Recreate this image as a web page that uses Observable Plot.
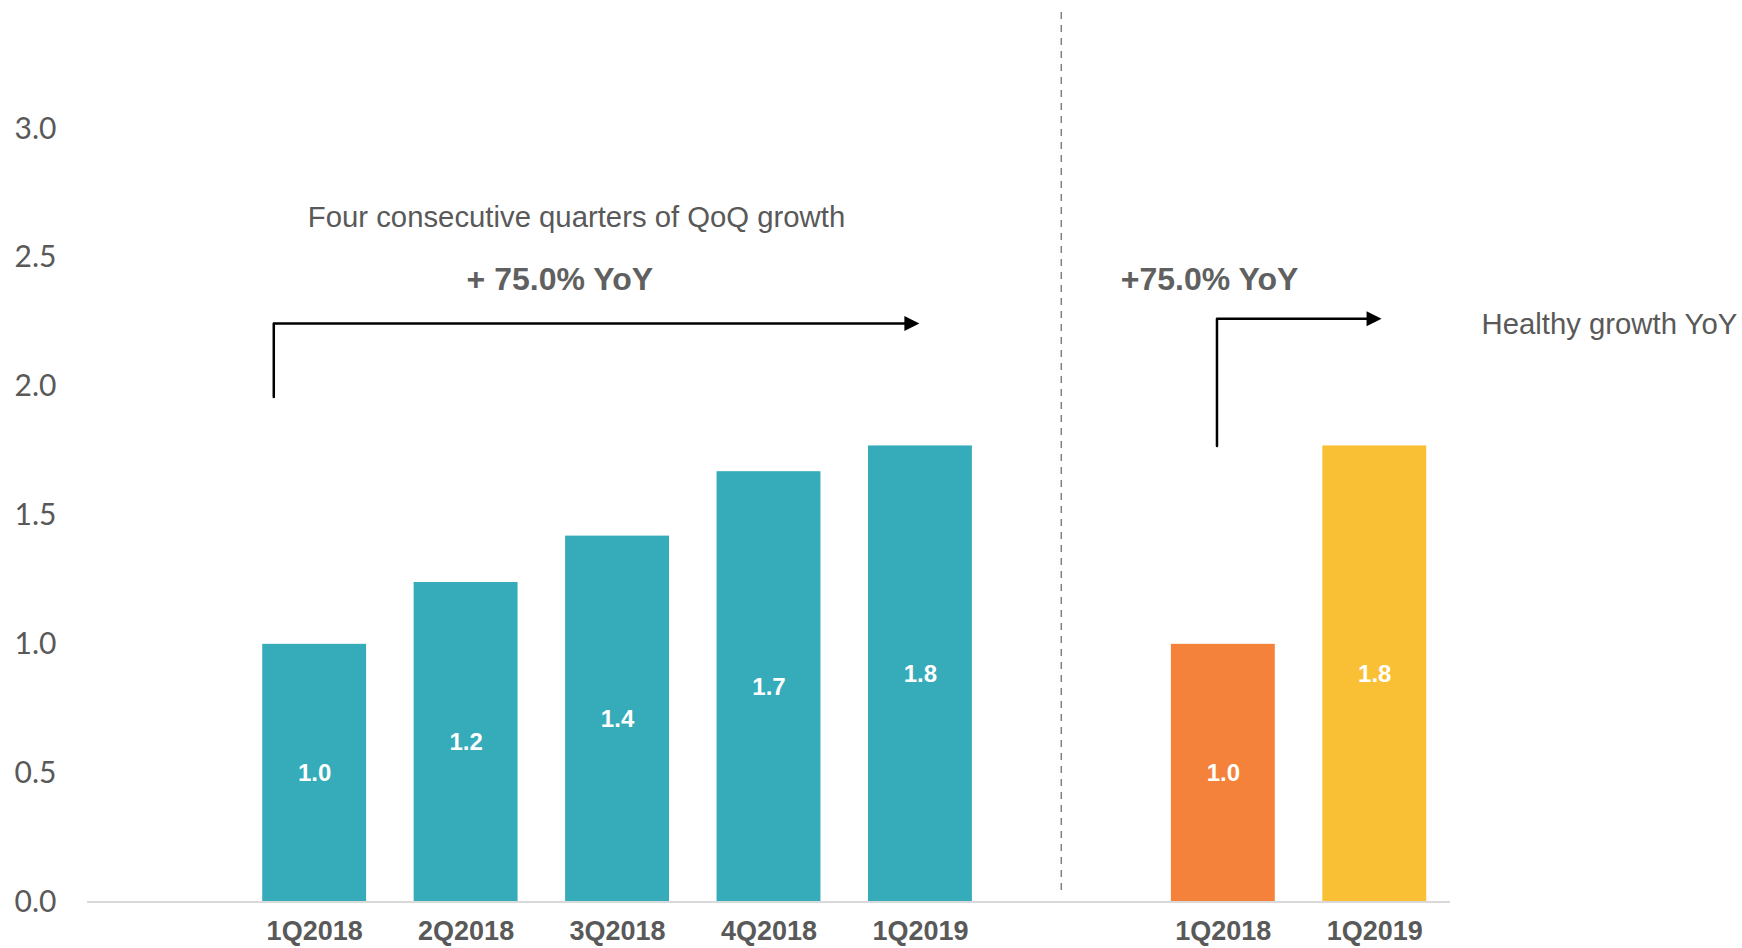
<!DOCTYPE html>
<html>
<head>
<meta charset="utf-8">
<script src="https://cdn.jsdelivr.net/npm/d3@7"></script>
<script src="https://cdn.jsdelivr.net/npm/@observablehq/plot@0.6"></script>
<style>
  html, body { margin: 0; padding: 0; background: #ffffff; }
  #chart svg { display: block; overflow: visible; }
</style>
</head>
<body>
<div id="chart"></div>
<script>
// ---- Data ----
const qoqQuarters = ["1Q2018", "2Q2018", "3Q2018", "4Q2018", "1Q2019"];
const qoqValues   = [1.0, 1.24, 1.42, 1.67, 1.77];
const yoyQuarters = ["1Q2018", "1Q2019"];
const yoyValues   = [1.0, 1.77];
const qoqColor    = "#36abb9";
const yoyColors   = ["#f4823a", "#f9bf35"];
const yTicks      = [0, 0.5, 1.0, 1.5, 2.0, 2.5, 3.0];

// annotation texts
const qoqNote   = "Four consecutive quarters of QoQ growth";
const qoqGrowth = "+ 75.0% YoY";
const yoyGrowth = "+75.0% YoY";
const yoyNote   = "Healthy growth YoY";

// ---- Build table (slot 0 and 6 are empty spacer slots on the x axis) ----
const rows = [
  ...qoqQuarters.map((q, i) => ({slot: i + 1, label: q, value: qoqValues[i], color: qoqColor})),
  ...yoyQuarters.map((q, i) => ({slot: qoqQuarters.length + 2 + i, label: q, value: yoyValues[i], color: yoyColors[i]}))
];
const slotLabel = new Map(rows.map(d => [d.slot, d.label]));
const divider = qoqQuarters.length + 0.93;

// annotation arrows, in data units (slot, value)
const qoqArrow = [{x: 0.73, y: 1.96}, {x: 0.73, y: 2.245}, {x: 4.96, y: 2.245}];
const qoqTip   = {x: 4.993, y: 2.245};
const yoyArrow = [{x: 6.958, y: 1.77}, {x: 6.958, y: 2.264}, {x: 8.01, y: 2.264}];
const yoyTip   = {x: 8.045, y: 2.264};

const half = 0.343;
const sans = "'Liberation Sans', Arial, sans-serif";
const headR = 7.5;
const rightTriangle = {
  draw(ctx, size) {
    const r = Math.sqrt(size / Math.PI);
    ctx.moveTo(r, 0);
    ctx.lineTo(-r, -r);
    ctx.lineTo(-r, r);
    ctx.closePath();
  }
};

const chart = Plot.plot({
  width: 1742,
  height: 948,
  marginLeft: 87,
  marginRight: 292,
  marginTop: 128.5,
  marginBottom: 46.5,
  x: {type: "linear", domain: [-0.5, 8.5], axis: null},
  y: {domain: [0, 3], axis: null},
  color: {type: "identity"},
  style: {background: "#ffffff", fontFamily: sans},
  marks: [
    Plot.rect(rows, {x1: d => d.slot - half, x2: d => d.slot + half, y1: 0, y2: "value", fill: "color"}),
    Plot.ruleY([0], {stroke: "#d9d9d9", strokeWidth: 2}),
    Plot.ruleX([divider], {y1: 0.045, y2: 3.46, stroke: "#808080", strokeWidth: 1.5, strokeDasharray: "7,6"}),
    Plot.axisY({ticks: yTicks, tickSize: 0, tickPadding: 31, tickFormat: d3.format(".1f"),
      fontSize: 30, fontFamily: "Lato, sans-serif", fill: "#595959", label: null}),
    Plot.axisX({ticks: rows.map(d => d.slot), tickSize: 0, tickPadding: 19, tickFormat: s => slotLabel.get(s),
      fontSize: 27, fontWeight: "bold", fontFamily: sans, fill: "#595959", label: null}),
    Plot.text(rows, {x: "slot", y: d => d.value / 2, text: d => d3.format(".1f")(d.value),
      fill: "white", fontSize: 24, fontWeight: "bold", fontFamily: sans}),
    Plot.line(qoqArrow, {x: "x", y: "y", stroke: "black", strokeWidth: 2.5, curve: "linear"}),
    Plot.line(yoyArrow, {x: "x", y: "y", stroke: "black", strokeWidth: 2.5, curve: "linear"}),
    Plot.dot([qoqTip, yoyTip], {x: "x", y: "y", r: headR, dx: -headR, symbol: rightTriangle, fill: "black", stroke: "none"}),
    Plot.text([qoqNote], {x: 2.729, y: 2.657, text: d => d, fontSize: 29.3, fill: "#595959", fontFamily: sans}),
    Plot.text([qoqGrowth], {x: 2.619, y: 2.416, text: d => d, fontSize: 32, fontWeight: "bold", fill: "#606060", fontFamily: sans}),
    Plot.text([yoyGrowth], {x: 6.909, y: 2.416, text: d => d, fontSize: 32, fontWeight: "bold", fill: "#606060", fontFamily: sans}),
    Plot.text([yoyNote], {x: 8.705, y: 2.239, text: d => d, textAnchor: "start", fontSize: 29.3, fill: "#595959", fontFamily: sans})
  ]
});
document.getElementById("chart").appendChild(chart);
</script>
</body>
</html>
